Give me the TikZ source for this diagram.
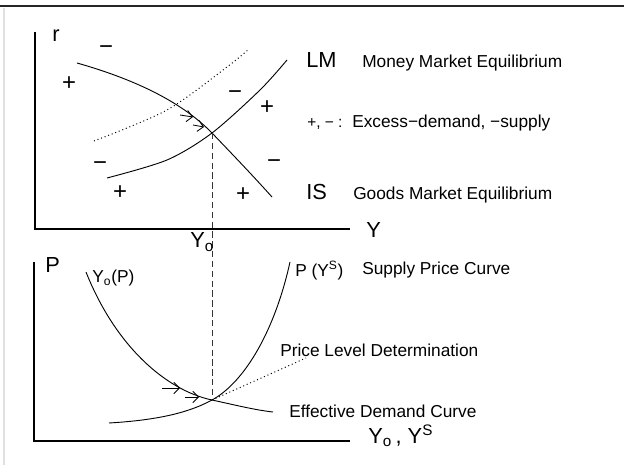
\documentclass[tikz,border=0pt]{standalone}
\usepackage{fontspec}
\setmainfont{Liberation Sans}
\usetikzlibrary{arrows.meta}

\begin{document}
\begin{tikzpicture}[
        x=0.025cm, y=-0.025cm,
        curve/.style={line width=0.65pt},
        axis/.style={line width=1pt},
        dots/.style={line width=0.7pt, dash pattern=on 0.7pt off 2pt},
        guide/.style={line width=0.6pt, dash pattern=on 4.5pt off 2.5pt, black!80},
        biglabel/.style={font=\fontsize{15.5}{18}\selectfont, inner sep=0pt, anchor=base west},
        textlabel/.style={font=\fontsize{12.3}{14}\selectfont, inner sep=0pt, anchor=base west},
        sign/.style={font=\fontsize{17}{19}\selectfont, inner sep=0pt},
        movearrow/.style={-{Straight Barb[length=4pt,width=8pt]}, line width=0.6pt}
    ]
        \useasboundingbox (0,0) rectangle (624,465);
        % frame
        \draw[line width=1pt, black!85] (0,6) -- (624,6);
        \draw[line width=1pt, black!12] (4,8) -- (4,465);

        % axes
        \draw[axis] (35,32) -- (35,229) -- (350,229);
        \draw[axis] (34,262) -- (34,441) -- (350,441);

        \coordinate (eqtop) at (212,133);
        \coordinate (eqbot) at (212,400);

        % IS-LM panel
        \draw[curve] (77,63) .. controls (130,78) and (180,100) .. (eqtop)
            .. controls (236,158) and (255,178) .. (272,197);
        \draw[curve] plot[smooth] coordinates {(107,178) (167,160) (212,133) (260,90) (287,60)};
        \draw[dots] plot[smooth] coordinates {(94,141) (167,110) (227,67) (249,49)};

        \coordinate (a1s) at (180,115);
        \coordinate (a1e) at (193,117);
        \coordinate (a2s) at (193,125);
        \coordinate (a2e) at (204,127);
        \draw[movearrow] (a1s) -- (a1e);
        \draw[movearrow] (a2s) -- (a2e);

        \node[sign] (s1) at (106,50) {−};
        \node[sign] (s2) at (69,84) {+};
        \node[sign] (s3) at (235,95) {−};
        \node[sign] (s4) at (267,108) {+};
        \node[sign] (s5) at (100,166) {−};
        \node[sign] (s6) at (120,193) {+};
        \node[sign] (s7) at (274,164) {−};
        \node[sign] (s8) at (243,195) {+};

        \node[biglabel] (rlab) at (52,42) {r};
        \node[biglabel] (ylab) at (366,238) {Y};
        \node[biglabel] (lmlab) at (306,68) {LM};
        \node[textlabel] (lmtext) at (362,68) {Money Market Equilibrium};
        \node[textlabel, font=\fontsize{11}{13}\selectfont] (signkey) at (307,128) {+, − :};
        \node[textlabel] (signtext) at (352,128) {Excess−demand, −supply};
        \node[biglabel] (islab) at (306,200) {IS};
        \node[textlabel] (istext) at (353,200) {Goods Market Equilibrium};

        % link between panels
        \draw[guide] (eqtop) -- (eqbot);
        \node[biglabel] (y0lab) at (190,248) {Y\textsubscript{o}};

        % price panel
        \draw[curve] (86,272) .. controls (115,345) and (165,390) .. (eqbot)
            .. controls (235,405) and (255,410) .. (273,412);
        \draw[curve] (109,423) .. controls (160,420) and (190,412) .. (eqbot)
            .. controls (245,382) and (275,330) .. (290,262);

        \coordinate (b1s) at (162,388);
        \coordinate (b1e) at (180,388);
        \coordinate (b2s) at (185,397);
        \coordinate (b2e) at (199,397);
        \draw[movearrow] (b1s) -- (b1e);
        \draw[movearrow] (b2s) -- (b2e);

        \coordinate (pldot) at (306,358);
        \draw[dots] (eqbot) -- (pldot);

        \node[biglabel] (plab) at (45,273) {P};
        \node[textlabel] (ydlab) at (92,283) {Y\textsubscript{o}(P)};
        \node[textlabel] (pslab) at (295,276) {P (Y\textsuperscript{S})};
        \node[textlabel] (sptext) at (362,275) {Supply Price Curve};
        \node[textlabel] (pltext) at (280,356) {Price Level Determination};
        \node[textlabel] (edtext) at (289,417) {Effective Demand Curve};
        \node[biglabel] (axlab) at (368,443) {Y\textsubscript{o}\,, Y\textsuperscript{S}};
    \end{tikzpicture}
\end{document}
